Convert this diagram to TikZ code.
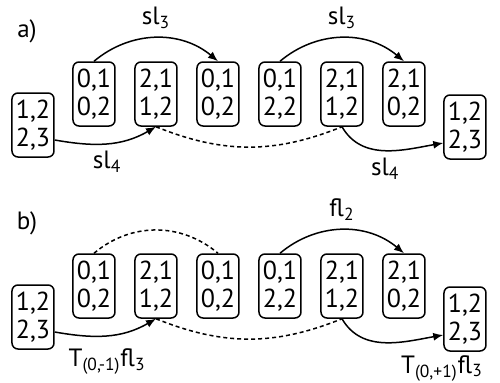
\documentclass[tikz,border=0pt]{standalone}
\usepackage{fontspec}
\setmainfont{PT Sans}
\usetikzlibrary{arrows.meta}
\tikzset{
  cell/.style={draw, rounded corners=3pt, line width=.75pt, align=center,
    minimum width=21pt, minimum height=32pt, inner sep=1pt,
    font=\fontsize{13}{14}\selectfont},
  move/.style={-{Latex[length=5pt,width=4pt]}, line width=.75pt},
  link/.style={dash pattern=on 2pt off 1.5pt, line width=.75pt},
  lbl/.style={font=\fontsize{12.5}{14}\selectfont}
}

\begin{document}
\begin{tikzpicture}[x=.5pt,y=.5pt]
  \useasboundingbox (0,0) rectangle (500,382);

  % panel a
  \node[lbl] (tagA) at (27,351) {a)};
  \node[cell] (aL) at (33,257) {1,2\\2,3};
  \node[cell] (a1) at (94,288) {0,1\\0,2};
  \node[cell] (a2) at (156,288) {2,1\\1,2};
  \node[cell] (a3) at (218,288) {0,1\\0,2};
  \node[cell] (a4) at (280,288) {0,1\\2,2};
  \node[cell] (a5) at (342,288) {2,1\\1,2};
  \node[cell] (a6) at (404,288) {2,1\\0,2};
  \node[cell] (aR) at (465,255) {1,2\\2,3};

  \draw[move] (a1.north) to[bend left=40] node[lbl, above=1pt] {sl\textsubscript{3}} (a3.north);
  \draw[move] (a4.north) to[bend left=40] node[lbl, above=1pt] {sl\textsubscript{3}} (a6.north);
  \draw[move] ([yshift=-7.5pt]aL.east) to[out=-10, in=-150] node[lbl, below] {sl\textsubscript{4}} (a2.south);
  \draw[link] (a2.south) to[bend right=22] (a5.south);
  \draw[move] (a5.south) to[out=-60, in=190] node[lbl, below] {sl\textsubscript{4}} ([yshift=-8pt]aR.west);

  % panel b
  \node[lbl] (tagB) at (27,159) {b)};
  \node[cell] (bL) at (33,65) {1,2\\2,3};
  \node[cell] (b1) at (94,96) {0,1\\0,2};
  \node[cell] (b2) at (156,96) {2,1\\1,2};
  \node[cell] (b3) at (218,96) {0,1\\0,2};
  \node[cell] (b4) at (280,96) {0,1\\2,2};
  \node[cell] (b5) at (342,96) {2,1\\1,2};
  \node[cell] (b6) at (404,96) {2,1\\0,2};
  \node[cell] (bR) at (465,63) {1,2\\2,3};

  \draw[link] (b1.north) to[bend left=40] (b3.north);
  \draw[move] (b4.north) to[bend left=40] node[lbl, above=1pt] {fl\textsubscript{2}} (b6.north);
  \draw[move] ([yshift=-7.5pt]bL.east) to[out=-10, in=-150]
    node[lbl, below=3pt] {T\textsubscript{(0,-1)}fl\textsubscript{3}} (b2.south);
  \draw[link] (b2.south) to[bend right=22] (b5.south);
  \draw[move] (b5.south) to[out=-60, in=190] ([yshift=-8pt]bR.west);
  \node[lbl, anchor=base] (tPlus) at (442,9) {T\textsubscript{(0,+1)}fl\textsubscript{3}};
\end{tikzpicture}
\end{document}
